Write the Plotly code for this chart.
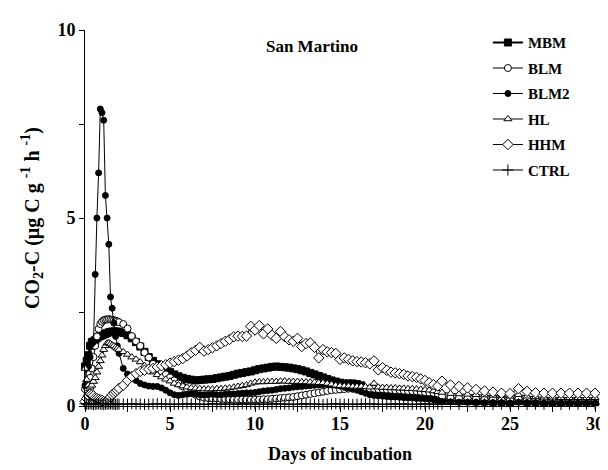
import plotly.graph_objects as go

# Sampling times (days of incubation)
days = [0.0, 0.1, 0.2, 0.3, 0.4, 0.5, 0.6, 0.7, 0.8, 0.9, 1.0, 1.1, 1.2, 1.3, 1.4, 1.5, 1.6, 1.7, 1.8, 1.9, 2.0,
        2.25, 2.5, 2.75, 3.0, 3.25, 3.5, 3.75, 4.0, 4.25, 4.5, 4.75, 5.0, 5.25, 5.5, 5.75, 6.0,
        6.25, 6.5, 6.75, 7.0, 7.25, 7.5, 7.75, 8.0, 8.25, 8.5, 8.75, 9.0, 9.25, 9.5, 9.75, 10.0,
        10.25, 10.5, 10.75, 11.0, 11.25, 11.5, 11.75, 12.0, 12.25, 12.5, 12.75, 13.0, 13.25, 13.5, 13.75, 14.0,
        14.25, 14.5, 14.75, 15.0, 15.25, 15.5, 15.75, 16.0, 16.25, 16.5, 16.75, 17.0, 17.25, 17.5, 17.75, 18.0,
        18.25, 18.5, 18.75, 19.0, 19.25, 19.5, 19.75, 20.0, 20.25, 20.5, 20.75, 21.0,
        21.5, 22.0, 22.5, 23.0, 23.5, 24.0, 24.5, 25.0, 25.5, 26.0, 26.5, 27.0, 27.5, 28.0, 28.5, 29.0, 29.5, 30.0]

mbm = [1.05, 1.2, 1.35, 1.6, 1.7, 1.72, 1.75, 1.8, 1.84, 1.86, 1.88, 1.9, 1.92, 1.94, 1.96, 1.97, 1.98, 1.98, 1.98, 1.98, 1.97,
       1.94, 1.88, 1.8, 1.7, 1.58, 1.44, 1.3, 1.2, 1.11, 1.03, 0.96, 0.9, 0.84, 0.79, 0.75, 0.72,
       0.7, 0.68, 0.69, 0.7, 0.71, 0.72, 0.74, 0.76, 0.78, 0.8, 0.83, 0.86, 0.88, 0.9, 0.92, 0.95,
       0.98, 1.0, 1.02, 1.04, 1.05, 1.04, 1.03, 1.02, 1.0, 0.98, 0.95, 0.92, 0.88, 0.84, 0.8, 0.76,
       0.72, 0.68, 0.65, 0.62, 0.6, 0.6, 0.6, 0.58, 0.55, 0.42, 0.38, 0.36, 0.35, 0.34, 0.33, 0.32,
       0.31, 0.3, 0.29, 0.28, 0.27, 0.27, 0.26, 0.25, 0.24, 0.22, 0.2, 0.16,
       0.14, 0.13, 0.13, 0.12, 0.12, 0.11, 0.11, 0.1, 0.13, 0.11, 0.11, 0.1, 0.1, 0.1, 0.1, 0.1, 0.1, 0.1]

blm = [0.45, 0.5, 0.6, 0.75, 1.0, 1.3, 1.6, 1.85, 2.05, 2.18, 2.24, 2.28, 2.3, 2.3, 2.31, 2.3, 2.29, 2.28, 2.27, 2.25, 2.23,
       2.18, 2.06, 1.86, 1.72, 1.6, 1.42, 1.29, 1.12, 1.0, 0.92, 0.84, 0.76, 0.68, 0.6, 0.52, 0.45,
       0.38, 0.3, 0.25, 0.22, 0.21, 0.2, 0.2, 0.19, 0.18, 0.18, 0.17, 0.17, 0.17, 0.17, 0.17, 0.17,
       0.17, 0.18, 0.18, 0.19, 0.2, 0.21, 0.22, 0.23, 0.24, 0.26, 0.28, 0.3, 0.32, 0.34, 0.36, 0.38,
       0.4, 0.42, 0.43, 0.44, 0.45, 0.46, 0.46, 0.47, 0.47, 0.47, 0.46, 0.46, 0.45, 0.45, 0.44, 0.43,
       0.42, 0.42, 0.41, 0.4, 0.4, 0.39, 0.38, 0.37, 0.36, 0.35, 0.33, 0.25,
       0.22, 0.21, 0.2, 0.19, 0.18, 0.18, 0.17, 0.17, 0.2, 0.18, 0.17, 0.16, 0.16, 0.16, 0.16, 0.16, 0.16, 0.16]

blm2 = [0.55, 1.0, 1.05, 1.3, 1.65, 1.7, 3.5, 5.0, 6.2, 7.9, 7.8, 7.6, 5.6, 5.0, 4.3, 2.9, 2.6, 2.2, 1.85, 1.6, 1.4,
        1.0, 0.85, 0.74, 0.68, 0.6, 0.56, 0.53, 0.52, 0.52, 0.48, 0.42, 0.35, 0.3, 0.28, 0.3, 0.31,
        0.33, 0.32, 0.3, 0.29, 0.3, 0.31, 0.3, 0.3, 0.31, 0.32, 0.32, 0.33, 0.34, 0.35, 0.35, 0.36,
        0.38, 0.4, 0.41, 0.42, 0.44, 0.46, 0.47, 0.48, 0.5, 0.51, 0.52, 0.53, 0.54, 0.55, 0.56, 0.57,
        0.57, 0.56, 0.55, 0.53, 0.5, 0.48, 0.45, 0.42, 0.38, 0.34, 0.3, 0.28, 0.27, 0.26, 0.25, 0.24,
        0.24, 0.23, 0.22, 0.22, 0.21, 0.2, 0.2, 0.19, 0.18, 0.17, 0.15, 0.12,
        0.11, 0.1, 0.1, 0.1, 0.09, 0.09, 0.09, 0.08, 0.1, 0.09, 0.09, 0.08, 0.08, 0.08, 0.08, 0.08, 0.08, 0.08]

hl = [1.0, 0.7, 0.55, 0.5, 0.55, 0.65, 0.75, 0.9, 1.05, 1.2, 1.35, 1.5, 1.6, 1.67, 1.68, 1.65, 1.62, 1.6, 1.56, 1.53, 1.5,
      1.44, 1.37, 1.3, 1.24, 1.17, 1.07, 0.98, 0.9, 0.83, 0.77, 0.71, 0.66, 0.6, 0.56, 0.53, 0.5,
      0.48, 0.47, 0.46, 0.45, 0.45, 0.45, 0.46, 0.46, 0.47, 0.48, 0.5, 0.52, 0.54, 0.56, 0.6, 0.63,
      0.64, 0.64, 0.65, 0.65, 0.65, 0.66, 0.66, 0.65, 0.65, 0.65, 0.64, 0.64, 0.63, 0.63, 0.62, 0.62,
      0.6, 0.58, 0.55, 0.54, 0.53, 0.53, 0.52, 0.52, 0.52, 0.51, 0.5, 0.6, 0.5, 0.49, 0.49, 0.48,
      0.48, 0.47, 0.47, 0.46, 0.46, 0.45, 0.44, 0.43, 0.42, 0.4, 0.38, 0.36,
      0.33, 0.32, 0.31, 0.3, 0.29, 0.28, 0.27, 0.26, 0.3, 0.26, 0.24, 0.23, 0.23, 0.22, 0.22, 0.22, 0.22, 0.22]

hhm = [0.12, 0.2, 0.28, 0.32, 0.3, 0.27, 0.22, 0.2, 0.18, 0.16, 0.15, 0.12, 0.1, 0.12, 0.18, 0.24, 0.3, 0.34, 0.38, 0.42, 0.47,
       0.55, 0.68, 0.78, 0.86, 0.92, 0.95, 0.98, 1.0, 1.04, 1.07, 1.1, 1.14, 1.18, 1.22, 1.26, 1.33,
       1.42, 1.48, 1.56, 1.46, 1.5, 1.55, 1.6, 1.66, 1.72, 1.77, 1.84, 1.86, 1.85, 1.86, 2.12, 2.02,
       2.14, 1.92, 2.05, 1.88, 1.8, 1.98, 1.84, 1.76, 1.72, 1.8, 1.58, 1.66, 1.68, 1.56, 1.28, 1.5,
       1.44, 1.42, 1.4, 1.24, 1.28, 1.24, 1.2, 1.18, 1.17, 1.15, 1.12, 1.2, 0.96, 1.02, 0.95, 0.9,
       0.88, 0.86, 0.84, 0.8, 0.78, 0.76, 0.72, 0.68, 0.62, 0.57, 0.53, 0.66,
       0.56, 0.52, 0.48, 0.44, 0.4, 0.37, 0.34, 0.33, 0.46, 0.39, 0.35, 0.34, 0.34, 0.34, 0.34, 0.34, 0.34, 0.34]

ctrl = [0.06, 0.05, 0.05, 0.06, 0.05, 0.04, 0.05, 0.05, 0.06, 0.05, 0.05, 0.04, 0.05, 0.05, 0.05, 0.06, 0.05, 0.05, 0.04, 0.05, 0.05,
        0.05, 0.05, 0.06, 0.05, 0.05, 0.04, 0.05, 0.05, 0.06, 0.05, 0.05, 0.05, 0.04, 0.05, 0.05, 0.06,
        0.05, 0.05, 0.05, 0.04, 0.05, 0.06, 0.05, 0.05, 0.05, 0.05, 0.04, 0.05, 0.06, 0.05, 0.05, 0.05,
        0.05, 0.04, 0.05, 0.05, 0.06, 0.05, 0.05, 0.05, 0.04, 0.05, 0.05, 0.06, 0.05, 0.05, 0.05, 0.04,
        0.05, 0.05, 0.06, 0.05, 0.05, 0.05, 0.04, 0.05, 0.05, 0.06, 0.05, 0.05, 0.05, 0.04, 0.05, 0.05,
        0.06, 0.05, 0.05, 0.05, 0.04, 0.05, 0.05, 0.06, 0.05, 0.05, 0.05, 0.05,
        0.05, 0.04, 0.05, 0.05, 0.05, 0.04, 0.05, 0.05, 0.05, 0.04, 0.05, 0.05, 0.05, 0.04, 0.05, 0.05, 0.05, 0.05]

series_names = ["MBM", "BLM", "BLM2", "HL", "HHM", "CTRL"]
series_values = [mbm, blm, blm2, hl, hhm, ctrl]
symbols = ["square", "circle", "circle", "triangle-up", "diamond", "cross-thin"]
fills = ["black", "white", "black", "white", "white", "black"]
sizes = [7, 7, 6, 7, 8, 8]
widths = [2, 1, 1, 1, 1, 1]

FONT = "Liberation Serif"

fig = go.Figure()
for i, (name, vals) in enumerate(zip(series_names, series_values)):
    fig.add_trace(go.Scatter(
        x=days, y=vals, name="<b>" + name + "</b>", mode="lines+markers",
        legendgroup=name,
        line=dict(color="black", width=widths[i]),
        marker=dict(symbol=symbols[i], size=sizes[i], color=fills[i],
                    line=dict(color="black", width=1)),
        cliponaxis=False,
    ))

fig.update_layout(
    width=608, height=470,
    margin=dict(l=77, r=13, t=20, b=72),
    paper_bgcolor="white", plot_bgcolor="white",
    font=dict(family=FONT, color="black", size=18),
    title=dict(text="<b>San Martino</b>", x=0.5, y=0.92, xanchor="center", yanchor="middle",
               font=dict(family=FONT, size=17, color="black")),
    legend=dict(x=0.79, y=1.01, xanchor="left", yanchor="top",
                font=dict(family=FONT, size=15, color="black"),
                bgcolor="rgba(0,0,0,0)", tracegroupgap=3, itemwidth=30),
    showlegend=True,
)

fig.update_xaxes(
    range=[0, 30], tickvals=[0, 5, 10, 15, 20, 25, 30],
    showline=True, linecolor="black", linewidth=1,
    ticks="outside", ticklen=5, tickcolor="black",
    minor=dict(tickvals=[2.5, 7.5, 12.5, 17.5, 22.5, 27.5], ticks="outside", ticklen=5, tickcolor="black"),
    showgrid=False, zeroline=False, ticklabeloverflow="allow", ticklabelstandoff=-4,
    tickfont=dict(family=FONT, size=18, weight="bold"),
    title=dict(text="<b>Days of incubation</b>", font=dict(family=FONT, size=18), standoff=14),
)
fig.update_yaxes(
    range=[0, 10], tickvals=[0, 5, 10],
    showline=True, linecolor="black", linewidth=1,
    ticks="outside", ticklen=5, tickcolor="black",
    minor=dict(tickvals=[2.5, 7.5], ticks="outside", ticklen=5, tickcolor="black"),
    showgrid=False, zeroline=False,
    tickfont=dict(family=FONT, size=18, weight="bold"),
    title=dict(text="<b>CO<sub>2</sub>-C (µg C g <sup>-1</sup> h <sup>-1</sup>)</b>",
               font=dict(family=FONT, size=20), standoff=12),
)

fig.write_html("out.html")
